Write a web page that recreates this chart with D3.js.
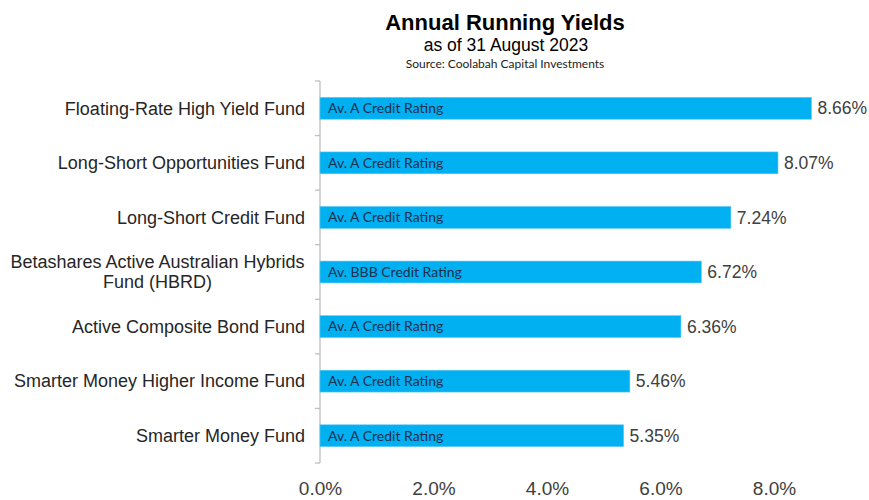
<!DOCTYPE html>
<html>
<head>
<meta charset="utf-8">
<title>Annual Running Yields</title>
<script src="https://cdnjs.cloudflare.com/ajax/libs/d3/7.8.5/d3.min.js"></script>
<style>
  body { margin: 0; background: #fff; }
  text { font-family: "Liberation Sans", Arial, sans-serif; }
</style>
</head>
<body>
<div id="chart"></div>
<script>
// data
var funds = ["Floating-Rate High Yield Fund", "Long-Short Opportunities Fund", "Long-Short Credit Fund",
             "Betashares Active Australian Hybrids|Fund (HBRD)", "Active Composite Bond Fund",
             "Smarter Money Higher Income Fund", "Smarter Money Fund"];
var yields = [8.66, 8.07, 7.24, 6.72, 6.36, 5.46, 5.35];
var ratings = ["Av. A Credit Rating", "Av. A Credit Rating", "Av. A Credit Rating", "Av. BBB Credit Rating",
               "Av. A Credit Rating", "Av. A Credit Rating", "Av. A Credit Rating"];
var xTicks = [0, 2, 4, 6, 8];

var width = 869, height = 500;
var margin = {top: 81, right: 38, bottom: 37, left: 320};

var svg = d3.select("#chart").append("svg")
    .attr("width", width)
    .attr("height", height);

// titles
svg.append("text").attr("x", 505).attr("y", 30).attr("text-anchor", "middle")
  .style("font-size", "22px").style("font-weight", "bold").attr("fill", "#000")
  .text("Annual Running Yields");
svg.append("text").attr("x", 506).attr("y", 51).attr("text-anchor", "middle")
  .style("font-size", "17.5px").attr("fill", "#000")
  .text("as of 31 August 2023");
svg.append("text").attr("x", 505).attr("y", 68).attr("text-anchor", "middle")
  .style("font-size", "12px").style("font-family", "Lato, 'Open Sans', sans-serif").attr("fill", "#222")
  .text("Source: Coolabah Capital Investments");

var x = d3.scaleLinear().domain([0, 9]).range([margin.left, margin.left + 9 * 56.75]);
var y = d3.scaleBand().domain(funds).range([margin.top, height - margin.bottom]).paddingInner(0.6).paddingOuter(0.3);

// y axis: line plus tick marks at band boundaries
var y0 = margin.top, y1 = height - margin.bottom;
svg.append("line").attr("x1", margin.left).attr("x2", margin.left).attr("y1", y0).attr("y2", y1)
  .attr("stroke", "#bfbfbf").attr("stroke-width", 1.3);
d3.range(funds.length + 1).forEach(function(i) {
  var yy = y0 + i * (y1 - y0) / funds.length;
  svg.append("line").attr("x1", margin.left - 5).attr("x2", margin.left).attr("y1", yy).attr("y2", yy)
    .attr("stroke", "#bfbfbf").attr("stroke-width", 1.3);
});

// category labels
funds.forEach(function(f) {
  var lines = f.split("|");
  var cy = y(f) + y.bandwidth() / 2;
  var t = svg.append("text").attr("text-anchor", lines.length > 1 ? "middle" : "end")
    .style("font-size", "18px").attr("fill", "#262626");
  var lx = lines.length > 1 ? 157.5 : 305;
  lines.forEach(function(l, i) {
    t.append("tspan").attr("x", lx)
      .attr("y", cy + (i - (lines.length - 1) / 2) * 20)
      .attr("dy", "0.35em").text(l);
  });
});

// bars
svg.selectAll(".bar").data(yields).enter().append("rect")
  .attr("x", x(0))
  .attr("y", function(d, i) { return y(funds[i]); })
  .attr("width", function(d) { return x(d) - x(0); })
  .attr("height", y.bandwidth())
  .attr("fill", "#00b0f0")
  .attr("stroke", "#5cc8f3").attr("stroke-width", 0.6);

// rating labels inside bars
svg.selectAll(".rating").data(ratings).enter().append("text")
  .attr("x", x(0) + 8)
  .attr("y", function(d, i) { return y(funds[i]) + y.bandwidth() / 2; })
  .attr("dy", "0.35em")
  .style("font-family", "Lato, 'Open Sans', sans-serif").style("font-size", "14px")
  .attr("fill", "#1f2f4f")
  .text(function(d) { return d; });

// value labels
svg.selectAll(".val").data(yields).enter().append("text")
  .attr("x", function(d) { return x(d) + 6; })
  .attr("y", function(d, i) { return y(funds[i]) + y.bandwidth() / 2; })
  .attr("dy", "0.35em")
  .style("font-size", "17.5px").attr("fill", "#404040")
  .text(function(d) { return d.toFixed(2) + "%"; });

// x axis labels only
var xAxis = svg.append("g").attr("transform", "translate(0," + 478 + ")")
  .call(d3.axisBottom(x).tickValues(xTicks).tickSize(0).tickFormat(function(d) { return d.toFixed(1) + "%"; }));
xAxis.select(".domain").remove();
xAxis.selectAll("text").style("font-size", "19px").style("font-family", "'Liberation Sans', Arial, sans-serif")
  .attr("fill", "#404040");
</script>
</body>
</html>
